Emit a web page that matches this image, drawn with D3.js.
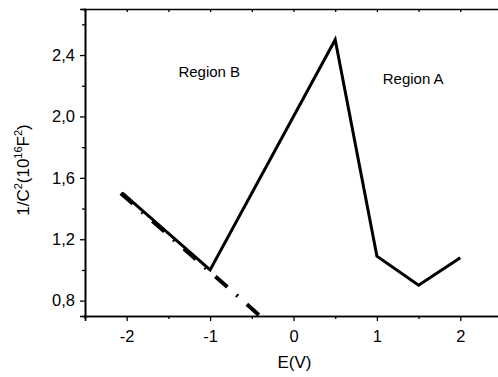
<!DOCTYPE html>
<html>
<head>
<meta charset="utf-8">
<script src="https://cdn.jsdelivr.net/npm/d3@7"></script>
<style>
  body { margin: 0; background: #fff; }
  svg { font-family: "Liberation Sans", Arial, sans-serif; }
</style>
</head>
<body>
<svg class="canvas" width="498" height="377"></svg>
<script>
const svg = d3.select(".canvas");
const margin = { top: 9, left: 85, right: -4, bottom: 61 };
const width = 498 - margin.left - margin.right;
const height = 377 - margin.top - margin.bottom;

// measured curve
const potential = [-2.05, -1, 0.5, 1, 1.5, 2];
const invCap = [1.5, 1.0, 2.5, 1.09, 0.9, 1.08];
// linear fit line (dash-dot)
const fitX = [-2.07, -0.4];
const fitY = [1.5, 0.7];

const xTicks = [-2, -1, 0, 1, 2];
const yTicks = [0.8, 1.2, 1.6, 2.0, 2.4];

const graph = svg.append("g")
  .attr("transform", `translate(${margin.left}, ${margin.top})`);

const x = d3.scaleLinear().domain([-2.5, 2.5]).range([0, width]);
const y = d3.scaleLinear().domain([0.7, 2.7]).range([height, 0]);

const fmt = d => d3.format(".1f")(d).replace(".", ",");

// minor ticks
const xMinor = d3.range(-2.5, 2.51, 0.5);
const yMinor = d3.range(0.8, 2.61, 0.2);

const xAxis = d3.axisBottom(x).tickValues(xTicks).tickSize(5).tickPadding(9).tickFormat(d => String(d));
const yAxis = d3.axisLeft(y).tickValues(yTicks).tickSize(5).tickPadding(5).tickFormat(fmt);

const xAxisGroup = graph.append("g").attr("transform", `translate(0,${height})`).call(xAxis);
const yAxisGroup = graph.append("g").call(yAxis);

graph.append("g").attr("transform", `translate(0,${height})`)
  .call(d3.axisBottom(x).tickValues(xMinor.filter(v => !xTicks.includes(Math.round(v * 10) / 10))).tickSize(3).tickFormat(""));
graph.append("g")
  .call(d3.axisLeft(y).tickValues(yMinor.filter((v, i) => i % 2 === 1)).tickSize(3).tickFormat(""));
// top axis with inward ticks
graph.append("g")
  .call(d3.axisTop(x).tickValues(xMinor).tickSize(-3).tickFormat(""));

graph.selectAll(".domain").attr("stroke", "#000").attr("stroke-width", 1.6);
graph.selectAll(".tick line").attr("stroke", "#000").attr("stroke-width", 1.3);

[xAxisGroup, yAxisGroup].forEach(g => {
  g.selectAll("text").attr("font-size", 16.5).attr("fill", "#000")
    .attr("font-family", "Liberation Sans, Arial, sans-serif");
});

const line = d3.line().x(d => x(d[0])).y(d => y(d[1]));

graph.append("path")
  .datum(d3.zip(fitX, fitY))
  .attr("d", line)
  .attr("fill", "none")
  .attr("stroke", "#000")
  .attr("stroke-width", 4)
  .attr("stroke-dasharray", "16,12,2,12");

graph.append("path")
  .datum(d3.zip(potential, invCap))
  .attr("d", line)
  .attr("fill", "none")
  .attr("stroke", "#000")
  .attr("stroke-width", 3)
  .attr("stroke-linejoin", "miter");

// annotations
graph.append("text").attr("x", x(-1.38)).attr("y", y(2.26))
  .attr("font-size", 15).text("Region B");
graph.append("text").attr("x", x(1.07)).attr("y", y(2.21))
  .attr("font-size", 15).text("Region A");

// axis titles
svg.append("text")
  .attr("x", margin.left + x(0) + 1).attr("y", 368)
  .attr("text-anchor", "middle").attr("font-size", 17)
  .text("E(V)");

const yLabel = svg.append("text")
  .attr("transform", "translate(29, 170) rotate(-90)")
  .attr("text-anchor", "middle").attr("font-size", 17);
yLabel.append("tspan").text("1/C");
yLabel.append("tspan").attr("dy", -7).attr("font-size", 11).text("2");
yLabel.append("tspan").attr("dy", 7).text("(10");
yLabel.append("tspan").attr("dy", -7).attr("font-size", 11).text("16");
yLabel.append("tspan").attr("dy", 7).text("F");
yLabel.append("tspan").attr("dy", -7).attr("font-size", 11).text("2");
yLabel.append("tspan").attr("dy", 7).text(")");
</script>
</body>
</html>
